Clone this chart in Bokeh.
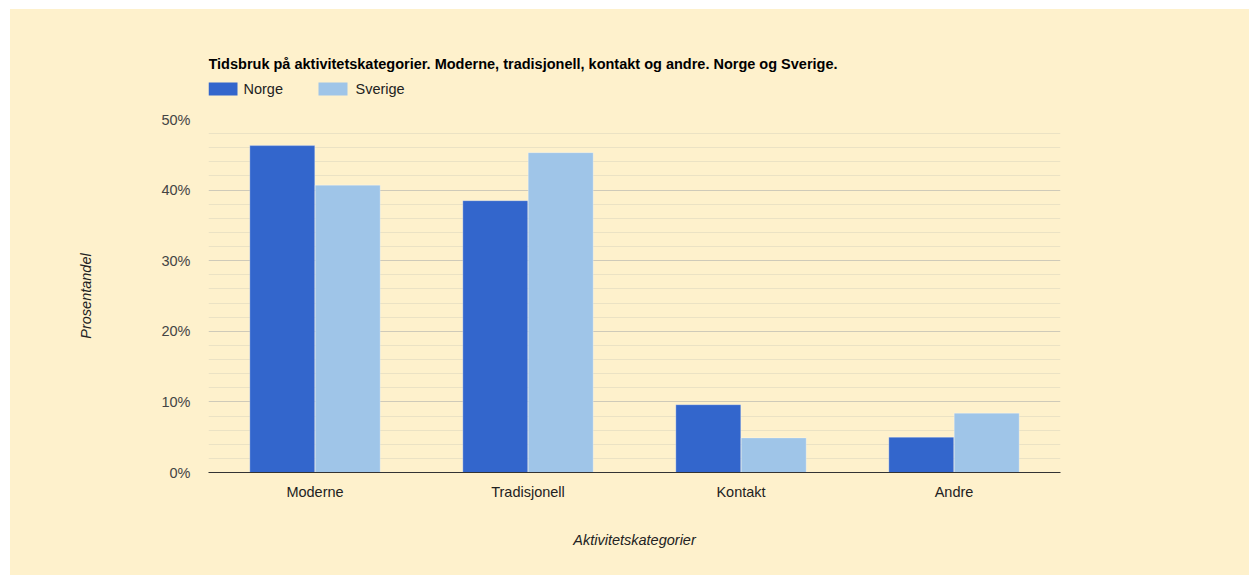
from bokeh.plotting import figure
from bokeh.layouts import column
from bokeh.models import (FactorRange, FixedTicker, PrintfTickFormatter, Range1d,
                          ColumnDataSource)
from bokeh.core.properties import value
from bokeh.transform import dodge
from bokeh.embed import file_html
from bokeh.resources import INLINE

# Andel tid per aktivitetskategori (prosent)
categories = ["Moderne", "Tradisjonell", "Kontakt", "Andre"]
norge = [46.3, 38.5, 9.6, 5.0]
sverige = [40.7, 45.3, 4.9, 8.4]
y_ticks = [0, 10, 20, 30, 40, 50]
y_minor = [2, 4, 6, 8, 12, 14, 16, 18, 22, 24, 26, 28, 32, 34, 36, 38, 42, 44, 46, 48]

title_text = "Tidsbruk på aktivitetskategorier. Moderne, tradisjonell, kontakt og andre. Norge og Sverige."
series_names = ["Norge", "Sverige"]
colors = ["#3366cc", "#9fc5e8"]

BG = "#fef1cc"
FONT = "Liberation Sans"
FS = "14.5px"
W = 1239
PLOT_W = 852      # inner width of the chart area
BORDER_L, BORDER_R = 198, 189

# ---- header strip: title and legend, pixel coordinates from the chart's left edge ----
HEAD_H = 90
head = figure(width=W, height=HEAD_H, x_range=Range1d(0, PLOT_W), y_range=Range1d(HEAD_H, 0),
              x_axis_type=None, y_axis_type=None, output_backend="svg",
              toolbar_location=None, min_border=0,
              min_border_left=BORDER_L, min_border_right=BORDER_R,
              outline_line_color=None,
              background_fill_color=BG, border_fill_color=BG)
head.text(x=[0], y=[54], text=[title_text], text_font=value(FONT), text_font_size=FS,
          text_font_style="bold", text_color="#000000", text_baseline="middle")
head.quad(left=[0, 110], right=[29, 139], top=[73, 73], bottom=[86, 86],
          fill_color=colors, line_color=None)
head.text(x=[35, 147], y=[79.5, 79.5], text=series_names, text_font=value(FONT),
          text_font_size=FS, text_color="#222222", text_baseline="middle")

# ---- main bar chart ----
src = ColumnDataSource(dict(cat=categories, norge=norge, sverige=sverige))

p = figure(
    x_range=FactorRange(*categories, range_padding=0),
    y_range=Range1d(0, 50),
    width=W, height=566 - HEAD_H,
    output_backend="svg", toolbar_location=None,
    min_border_left=BORDER_L, min_border_right=BORDER_R,
    min_border_top=20, min_border_bottom=103,
    background_fill_color=BG, border_fill_color=BG,
    outline_line_color=None,
)

bar_w = 0.305
p.vbar(x=dodge("cat", -0.1535, range=p.x_range), top="norge", width=bar_w,
       source=src, fill_color=colors[0], line_color="#ffffff", line_alpha=0.5, line_width=0.6)
p.vbar(x=dodge("cat", 0.1535, range=p.x_range), top="sverige", width=bar_w,
       source=src, fill_color=colors[1], line_color="#ffffff", line_alpha=0.5, line_width=0.6)

# y axis: percent ticks with 2 % minor grid
p.yaxis.ticker = FixedTicker(ticks=y_ticks, minor_ticks=y_minor)
p.yaxis.formatter = PrintfTickFormatter(format="%d%%")
p.yaxis.axis_line_color = None
p.yaxis.major_tick_line_color = None
p.yaxis.minor_tick_line_color = None
p.yaxis.major_label_standoff = 12
p.yaxis.major_label_text_font = FONT
p.yaxis.major_label_text_font_size = FS
p.yaxis.major_label_text_color = "#444444"
p.yaxis.axis_label = "Prosentandel"
p.yaxis.axis_label_standoff = 64
p.yaxis.axis_label_text_font = FONT
p.yaxis.axis_label_text_font_size = FS
p.yaxis.axis_label_text_font_style = "italic"
p.yaxis.axis_label_text_color = "#222222"

p.xaxis.axis_line_color = "#333333"
p.xaxis.axis_line_width = 1
p.xaxis.major_tick_line_color = None
p.xaxis.minor_tick_line_color = None
p.xaxis.major_label_standoff = 5
p.xaxis.major_label_text_font = FONT
p.xaxis.major_label_text_font_size = FS
p.xaxis.major_label_text_color = "#222222"
p.xaxis.axis_label = "Aktivitetskategorier"
p.xaxis.axis_label_standoff = 29
p.xaxis.axis_label_text_font = FONT
p.xaxis.axis_label_text_font_size = FS
p.xaxis.axis_label_text_font_style = "italic"
p.xaxis.axis_label_text_color = "#222222"

p.xgrid.grid_line_color = None
p.ygrid.grid_line_color = "#cfcab9"
p.ygrid.minor_grid_line_color = "#ebe2c4"

page = column(head, p, spacing=0, margin=(9, 0, 0, 10),
              styles={"background-color": BG})

open("out.html", "w").write(file_html(page, INLINE))
